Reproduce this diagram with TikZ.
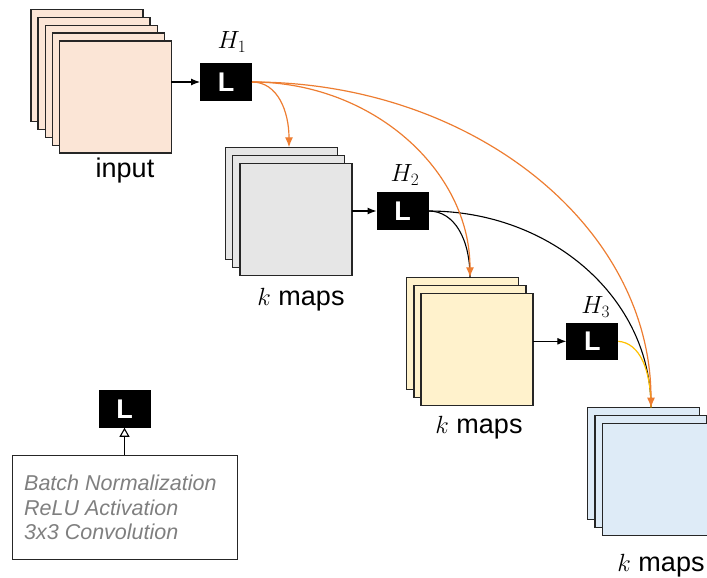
\documentclass[tikz,border=0pt]{standalone}
\usepackage{fontspec}
\setmainfont{Liberation Sans}
\usetikzlibrary{arrows.meta}
\definecolor{cin}{HTML}{FBE5D6}
\definecolor{cgray}{HTML}{E6E6E6}
\definecolor{cyel}{HTML}{FFF2CC}
\definecolor{cblue}{HTML}{DEEBF7}
\definecolor{corange}{HTML}{ED7D31}
\definecolor{cgold}{HTML}{FFC000}
\definecolor{ctext}{HTML}{7F7F7F}
\definecolor{cedge}{HTML}{262626}
\begin{document}
\begin{tikzpicture}[x=1pt,y=-1pt,
  sq/.style={draw=cedge, line width=1.4pt, anchor=north west, minimum size=112pt, inner sep=0pt, outer sep=0pt},
  lbox/.style={fill=black, text=white, minimum width=52pt, minimum height=37.5pt, inner sep=0pt, outer sep=0pt, font=\fontsize{27}{27}\selectfont\bfseries},
  hlab/.style={font=\fontsize{25.5}{25.5}\selectfont},
  captxt/.style={font=\fontsize{27}{30}\selectfont},
  blkarrow/.style={draw=black, line width=1.1pt, -{Latex[length=9pt,width=7pt]}},
  orarrow/.style={draw=corange, line width=1.2pt, -{Latex[length=10pt,width=8pt]}},
  blkcurve/.style={draw=black, line width=1.1pt},
  goldcurve/.style={draw=cgold, line width=1.2pt},
]
\useasboundingbox (0,0) rectangle (707,578);
% input stack
\foreach \i in {0,...,4}{
  \node[sq, fill=cin] (in\i) at ({31+7.1*\i},{9.5+7.9*\i}) {};
}
% gray stack
\node[sq, fill=cgray] (g0) at (225.7,147.3) {};
\node[sq, fill=cgray] (g1) at (232.7,155.3) {};
\node[sq, fill=cgray] (g2) at (240,163.3) {};
% yellow stack
\node[sq, fill=cyel] (y0) at (406.7,277.3) {};
\node[sq, fill=cyel] (y1) at (414,285.3) {};
\node[sq, fill=cyel] (y2) at (421,293.3) {};
% blue stack
\node[sq, fill=cblue] (b0) at (587.7,407.7) {};
\node[sq, fill=cblue] (b1) at (595,415.7) {};
\node[sq, fill=cblue] (b2) at (602.3,423.3) {};
% L boxes
\node[lbox] (L1) at (226,82) {L};
\node[lbox] (L2) at (402.5,211) {L};
\node[lbox] (L3) at (592.3,341.3) {L};
\node[lbox] (Lleg) at (124.5,409) {L};
% H labels
\node[hlab] (h1) at (232,42) {$H_1$};
\node[hlab] (h2) at (405,175) {$H_2$};
\node[hlab] (h3) at (595.7,306.7) {$H_3$};
% captions
\node[captxt] (capin) at (125,171) {input};
\node[captxt] (capg) at (301,300) {$k$ maps};
\node[captxt] (capy) at (479,428) {$k$ maps};
\node[captxt] (capb) at (661,566) {$k$ maps};
% legend
\node[draw=cedge, line width=0.9pt, minimum width=225.6pt, minimum height=104pt, anchor=north west, inner sep=0pt] (leg) at (11.7,455) {};
\node[anchor=west, align=left, text=ctext, inner sep=0pt, font=\fontsize{21.5}{24.8}\selectfont\itshape] (legtxt) at (24,507.5) {Batch Normalization\\ReLU Activation\\3x3 Convolution};
\draw[line width=1.1pt, -{Triangle[open,length=9pt,width=10pt]}] (Lleg.south |- leg.north) -- (Lleg.south);
% straight arrows
\draw[blkarrow] (in4.east |- L1.west) -- (L1.west);
\draw[blkarrow] (g2.east |- L2.west) -- (L2.west);
\draw[blkarrow] (y2.east |- L3.west) -- (L3.west);
% targets
\coordinate (t1) at (289,147.3);
\coordinate (t2) at (470,277.3);
\coordinate (t3) at (651,407.7);
% dense connections
\draw[blkcurve] (L2.east) .. controls (455,211) and (470,240) .. (t2);
\draw[blkcurve] (L2.east) .. controls (551,211) and (651,298) .. (t3);
\draw[goldcurve] (L3.east) .. controls (640,343) and (651,370) .. (t3);
\draw[orarrow] (L1.east) .. controls (278,82) and (289,112) .. (t1);
\draw[orarrow] (L1.east) .. controls (372,82) and (470,170) .. (t2);
\draw[orarrow] (L1.east) .. controls (471,82) and (651,225) .. (t3);
\end{tikzpicture}
\end{document}
